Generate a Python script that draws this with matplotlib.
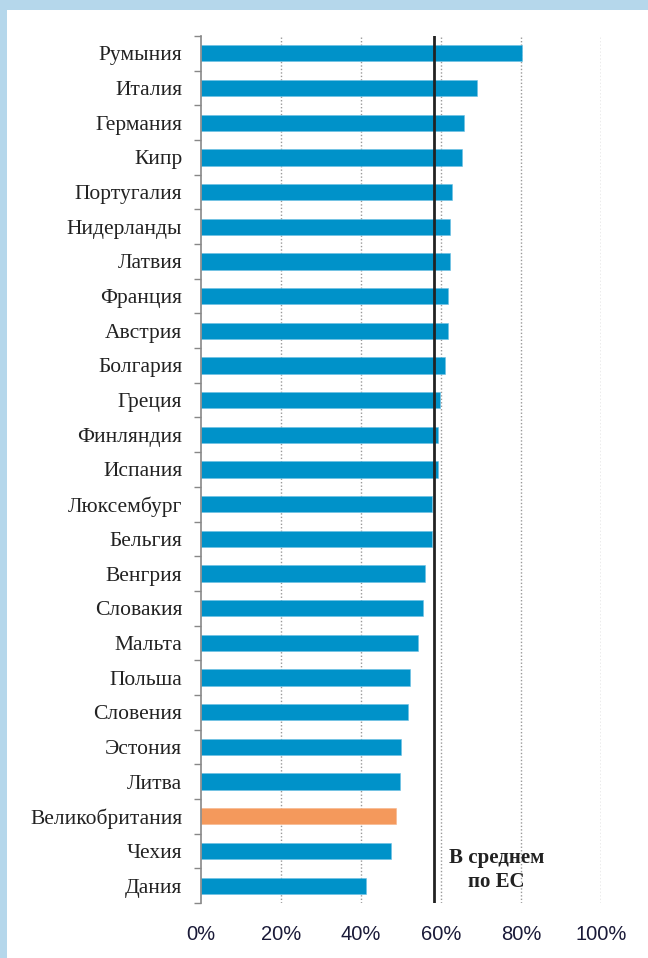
import matplotlib.pyplot as plt
from matplotlib.patches import Rectangle
from matplotlib.ticker import FixedLocator

# Data, top to bottom
countries = ['Румыния', 'Италия', 'Германия', 'Кипр', 'Португалия', 'Нидерланды',
             'Латвия', 'Франция', 'Австрия', 'Болгария', 'Греция', 'Финляндия',
             'Испания', 'Люксембург', 'Бельгия', 'Венгрия', 'Словакия', 'Мальта',
             'Польша', 'Словения', 'Эстония', 'Литва', 'Великобритания', 'Чехия', 'Дания']
values = [80.3, 69.0, 65.8, 65.3, 62.8, 62.3, 62.3, 61.8, 61.8, 61.0, 59.8, 59.3,
          59.3, 57.8, 57.8, 56.0, 55.5, 54.3, 52.3, 51.8, 50.0, 49.8, 48.8, 47.6, 41.3]
eu_average = 58.3
highlight = 'Великобритания'
xticks = [0, 20, 40, 60, 80, 100]

blue = '#0092c9'
orange = '#f4995c'

fig = plt.figure(figsize=(6.48, 9.58), dpi=100)
fig.patch.set_facecolor('#b5d7eb')
fig.add_artist(Rectangle((7 / 648, 0), 1, (958 - 10) / 958, transform=fig.transFigure,
                         facecolor='white', edgecolor='none', zorder=0))

ax = fig.add_axes([201 / 648, 55 / 958, 400 / 648, 867 / 958])
ax.set_facecolor('none')

ypos = list(range(len(countries)))
colors = [orange if c == highlight else blue for c in countries]
edges = ['#f7b48a' if c == highlight else '#6cc0e4' for c in countries]
ax.barh(ypos, values, height=0.47, color=colors, edgecolor=edges, linewidth=0.4,
        zorder=3)

# EU average line
ax.axvline(eu_average, color='#222222', lw=2, zorder=4)
ax.text(eu_average + 15.6, 23.55, 'В среднем\nпо ЕС', ha='center', va='center',
        fontsize=15, fontweight='bold', family='Liberation Serif',
        color='#222222', linespacing=1.3, zorder=5)

# grid
for x in xticks[1:]:
    ax.axvline(x, color='#999999', lw=1, ls=(0, (1, 1.5)), zorder=1)

ax.set_xlim(0, 100)
ax.set_ylim(len(countries) - 0.5, -0.5)

ax.set_yticks(ypos)
ax.set_yticklabels(countries, family='Liberation Serif', fontsize=15.5, color='#222222')
ax.yaxis.set_minor_locator(FixedLocator([i - 0.5 for i in range(len(countries) + 1)]))
ax.tick_params(axis='y', which='major', length=0, pad=13.5)
ax.tick_params(axis='y', which='minor', length=5, color='#888888', width=1)

ax.set_xticks(xticks)
ax.set_xticklabels([f'{x}%' for x in xticks], family='Liberation Sans', fontsize=14.5,
                   color='#1a1a38')
ax.tick_params(axis='x', length=0, pad=16)

for s in ['top', 'right', 'bottom']:
    ax.spines[s].set_visible(False)
ax.spines['left'].set_color('#888888')
ax.spines['left'].set_linewidth(1.2)
ax.spines['left'].set_zorder(6)

fig.savefig('out.png', dpi=100, facecolor=fig.get_facecolor())
